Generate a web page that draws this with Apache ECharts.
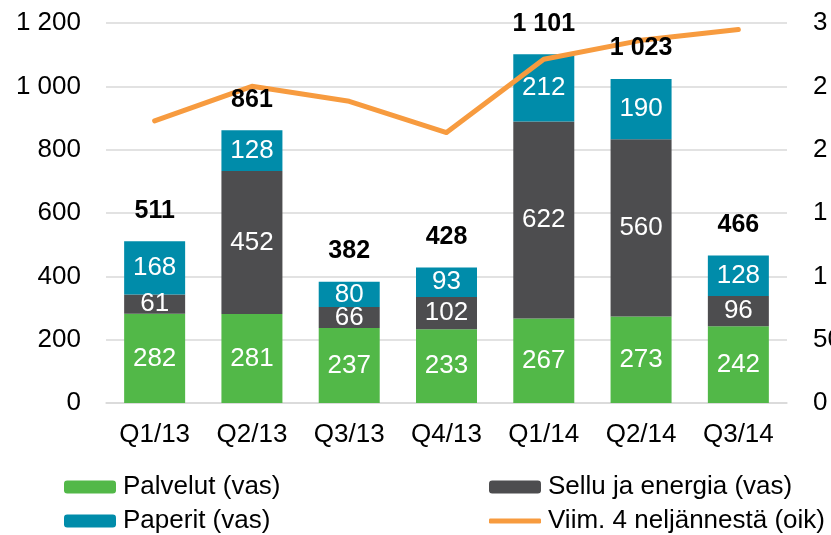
<!DOCTYPE html>
<html>
<head>
<meta charset="utf-8">
<script src="https://cdn.jsdelivr.net/npm/echarts@6/dist/echarts.min.js"></script>
<style>
html,body{margin:0;padding:0;background:#fff;}
#c{width:831px;height:535px;}
</style>
</head>
<body>
<div id="c"></div>
<script>
const categories = ['Q1/13','Q2/13','Q3/13','Q4/13','Q1/14','Q2/14','Q3/14'];
const palvelut = [282,281,237,233,267,273,242];
const sellu = [61,452,66,102,622,560,96];
const paperit = [168,128,80,93,212,190,128];
const totals = [511,861,382,428,1101,1023,466];
const viim4 = [2227,2500,2382,2135,2714,2863,2948];
const leftTicks = {min:0,max:1200,interval:200};
const rightTicks = {min:0,max:3000,interval:500};

const fmt = v => {
  const s = String(Math.round(v));
  return s.replace(/\B(?=(\d{3})+(?!\d))/g, ' ');
};
const FONT = '"Liberation Sans", Arial, sans-serif';
const inLabel = {show:true, position:'inside', color:'#fff', fontSize:26, fontFamily:FONT};
const legText = {fontSize:26, color:'#000', fontFamily:FONT, padding:[0,0,0,2]};
function leg(name, left, top, extra){
  return Object.assign({data:[name], left:left, top:top, padding:0,
    itemWidth:52, itemHeight:13, textStyle:legText}, extra||{});
}

const chart = echarts.init(document.getElementById('c'), null, {renderer:'canvas'});
chart.setOption({
  animation:false,
  textStyle:{fontFamily:FONT},
  grid:{left:106, right:44, top:23, bottom:132, containLabel:false, outerBoundsMode:'none'},
  legend:[
    leg('Palvelut (vas)', 64, 474),
    leg('Paperit (vas)', 64, 508),
    leg('Sellu ja energia (vas)', 489, 474),
    leg('Viim. 4 neljännestä (oik)', 489, 508, {icon:'roundRect', itemHeight:5})
  ],
  xAxis:{type:'category', data:categories,
    axisLine:{lineStyle:{color:'#d9d9d9', width:1.5}}, axisTick:{show:false},
    axisLabel:{color:'#000', fontSize:26, margin:19, fontFamily:FONT}},
  yAxis:[
    {type:'value', min:leftTicks.min, max:leftTicks.max, interval:leftTicks.interval,
     axisLabel:{color:'#000', fontSize:26, margin:25, formatter:fmt, fontFamily:FONT},
     splitLine:{lineStyle:{color:'#d9d9d9', width:1.5}}, axisLine:{show:false}, axisTick:{show:false}},
    {type:'value', min:rightTicks.min, max:rightTicks.max, interval:rightTicks.interval, position:'right',
     axisLabel:{color:'#000', fontSize:26, margin:26, formatter:fmt, fontFamily:FONT},
     splitLine:{show:false}, axisLine:{show:false}, axisTick:{show:false}}
  ],
  series:[
    {name:'Palvelut (vas)', type:'bar', stack:'a', data:palvelut, barWidth:61,
     itemStyle:{color:'#52b848'}, label:inLabel, z:2},
    {name:'Sellu ja energia (vas)', type:'bar', stack:'a', data:sellu, barWidth:61,
     itemStyle:{color:'#4d4d4f'}, label:inLabel, z:2},
    {name:'Paperit (vas)', type:'bar', stack:'a', data:paperit, barWidth:61,
     itemStyle:{color:'#008caa'}, label:inLabel, z:2},
    {name:'Viim. 4 neljännestä (oik)', type:'line', yAxisIndex:1, data:viim4,
     symbol:'none', showSymbol:false, lineStyle:{color:'#f79b3f', width:5, cap:'round', join:'round'},
     itemStyle:{color:'#f79b3f'}, z:4},
    {name:'totals', type:'bar', data:totals, barWidth:61, barGap:'-100%',
     itemStyle:{color:'rgba(0,0,0,0)'}, silent:true, z:6,
     label:{show:true, position:'top', distance:18, color:'#000', fontSize:25, fontWeight:'bold',
       fontFamily:FONT, formatter:p=>fmt(p.value)}}
  ]
});
</script>
</body>
</html>
